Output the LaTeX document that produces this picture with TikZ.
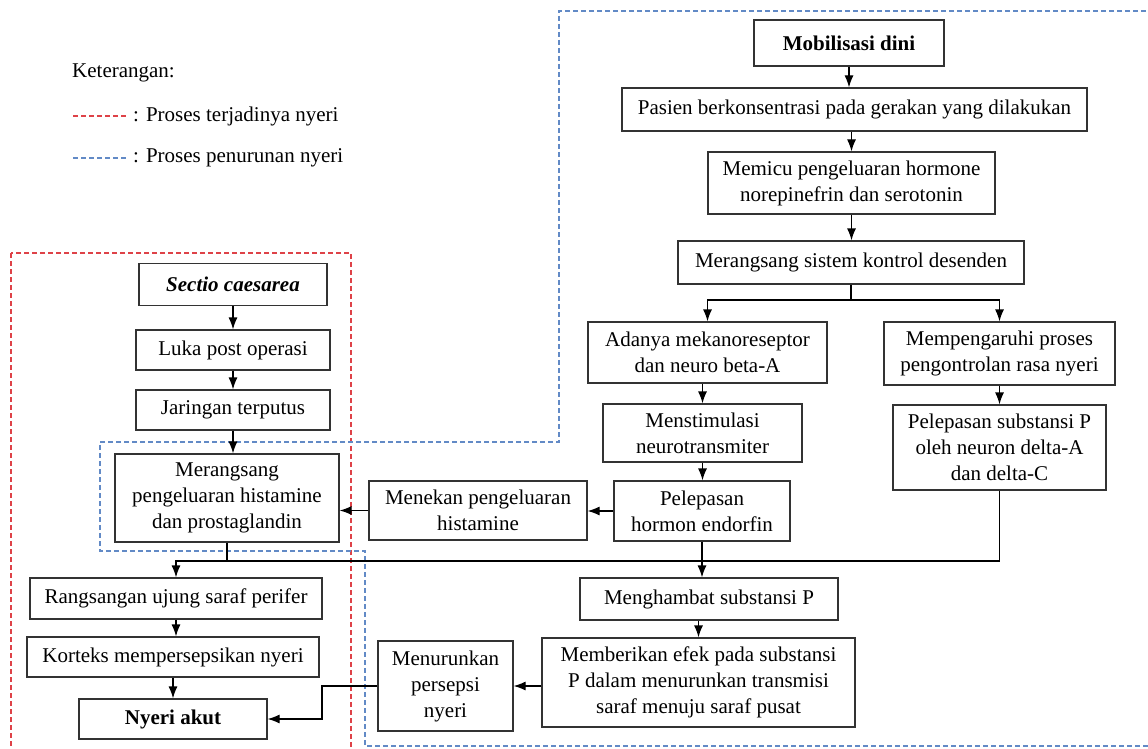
\documentclass[tikz,border=0pt]{standalone}
\usepackage{fontspec}
\setmainfont{Liberation Serif}
\usetikzlibrary{positioning,arrows.meta}
\definecolor{nyerimerah}{RGB}{222,66,72}
\definecolor{turunbiru}{RGB}{98,138,198}
\begin{document}
\begin{tikzpicture}[>={Latex[length=12pt,width=9pt]}, x=1pt, y=-1pt,
    box/.style={draw=black!80, line width=1.2pt, align=center, inner sep=2pt, font=\fontsize{21}{26}\selectfont},
    teks/.style={align=left, inner sep=0pt, font=\fontsize{21}{26}\selectfont},
    garis/.style={line width=1.2pt},
    merah/.style={draw=nyerimerah, line width=1.1pt, dash pattern=on 5pt off 3pt},
    biru/.style={draw=turunbiru, line width=1.1pt, dash pattern=on 5pt off 3pt}]
\useasboundingbox (0,0) rectangle (1148,749);

    % keterangan
    \node[teks, anchor=west] (ket) at (72,73) {Keterangan:};
    \node[teks, anchor=west] (legmerah) at (133,116) {: Proses terjadinya nyeri};
    \node[teks, anchor=west] (legbiru) at (133,158) {: Proses penurunan nyeri};
    \draw[merah] ([xshift=-60pt]legmerah.west) -- ([xshift=-6pt]legmerah.west);
    \draw[biru] ([xshift=-60pt]legbiru.west) -- ([xshift=-6pt]legbiru.west);

    % batas proses
    \draw[merah] (11,253) rectangle (351,770);
    \draw[biru] (1170,11) -- (559,11) -- (559,442) -- (100,442) -- (100,551) -- (365,551) -- (365,746) -- (1170,746);

    % proses terjadinya nyeri
    \node[box, minimum width=188pt, minimum height=42pt, font=\fontsize{21}{26}\selectfont\bfseries\itshape] (sectio) at (233,284.5) {Sectio caesarea};
    \node[box, minimum width=194pt, minimum height=40pt] (luka) at (233,350) {Luka post operasi};
    \node[box, minimum width=194pt, minimum height=40pt] (jaringan) at (233,410) {Jaringan terputus};
    \node[box, minimum width=224pt, minimum height=88pt] (histamin) at (227,498) {Merangsang\\pengeluaran histamine\\dan prostaglandin};
    \node[box, minimum width=292pt, minimum height=41pt] (perifer) at (176,598.5) {Rangsangan ujung saraf perifer};
    \node[box, minimum width=292pt, minimum height=40pt] (korteks) at (173,657) {Korteks mempersepsikan nyeri};
    \node[box, minimum width=188pt, minimum height=40pt, font=\fontsize{21}{26}\selectfont\bfseries] (akut) at (173,719) {Nyeri akut};

    % proses penurunan nyeri
    \node[box, minimum width=190pt, minimum height=46pt, font=\fontsize{21}{26}\selectfont\bfseries] (mobilisasi) at (849,43) {Mobilisasi dini};
    \node[box, minimum width=465pt, minimum height=43pt] (pasien) at (854.5,109.5) {Pasien berkonsentrasi pada gerakan yang dilakukan};
    \node[box, minimum width=287pt, minimum height=62pt] (memicu) at (851.5,183) {Memicu pengeluaran hormone\\norepinefrin dan serotonin};
    \node[box, minimum width=346pt, minimum height=43pt] (desenden) at (851,262.5) {Merangsang sistem kontrol desenden};
    \node[box, minimum width=239pt, minimum height=61pt] (mekano) at (707.5,352.5) {Adanya mekanoreseptor\\dan neuro beta-A};
    \node[box, minimum width=231pt, minimum height=63pt] (pengaruh) at (999.5,353.5) {Mempengaruhi proses\\pengontrolan rasa nyeri};
    \node[box, minimum width=199pt, minimum height=58pt] (stimulasi) at (702.5,433) {Menstimulasi\\neurotransmiter};
    \node[box, minimum width=213pt, minimum height=85pt] (subsP) at (999.5,447.5) {Pelepasan substansi P\\oleh neuron delta-A\\dan delta-C};
    \node[box, minimum width=176pt, minimum height=60pt] (endorfin) at (702,511) {Pelepasan\\hormon endorfin};
    \node[box, minimum width=218pt, minimum height=59pt] (menekan) at (478,510.5) {Menekan pengeluaran\\histamine};
    \node[box, minimum width=258pt, minimum height=42pt] (hambat) at (709,599) {Menghambat substansi P};
    \node[box, minimum width=313pt, minimum height=89pt] (efek) at (698.5,682.5) {Memberikan efek pada substansi\\P dalam menurunkan transmisi\\saraf menuju saraf pusat};
    \node[box, minimum width=135pt, minimum height=90pt] (persepsi) at (445.5,686) {Menurunkan\\persepsi\\nyeri};

    \coordinate (gabung) at (0,561);
    \coordinate (cabang) at (0,300);
    \coordinate (belok) at (322,0);

    % panah kiri
    \draw[garis,->] (sectio.south) -- (sectio.south |- luka.north);
    \draw[garis,->] (luka.south) -- (luka.south |- jaringan.north);
    \draw[garis,->] (jaringan.south) -- (jaringan.south |- histamin.north);
    \draw[garis] (histamin.south) -- (histamin.south |- gabung);
    \draw[garis,->] (perifer.south) -- (perifer.south |- korteks.north);
    \draw[garis,->] (korteks.south) -- (korteks.south |- akut.north);

    % panah kanan
    \draw[garis,->] (mobilisasi.south) -- (mobilisasi.south |- pasien.north);
    \draw[garis,->] (pasien.south -| memicu.north) -- (memicu.north);
    \draw[garis,->] (memicu.south) -- (memicu.south |- desenden.north);
    \draw[garis] (desenden.south) -- (desenden.south |- cabang);
    \draw[garis,->] (desenden.south |- cabang) -| (mekano.north);
    \draw[garis,->] (desenden.south |- cabang) -| (pengaruh.north);
    \draw[garis,->] (mekano.south -| stimulasi.north) -- (stimulasi.north);
    \draw[garis,->] (pengaruh.south) -- (pengaruh.south |- subsP.north);
    \draw[garis,->] (stimulasi.south) -- (stimulasi.south |- endorfin.north);
    \draw[garis,->] (endorfin.west) -- (menekan.east |- endorfin.west);
    \draw[garis,->] (menekan.west) -- (histamin.east |- menekan.west);
    \draw[garis,->] (subsP.south) |- (perifer.north |- gabung) -- (perifer.north);
    \draw[garis,->] (endorfin.south) -- (endorfin.south |- hambat.north);
    \draw[garis,->] (efek.north |- hambat.south) -- (efek.north);
    \draw[garis,->] (efek.west |- persepsi.east) -- (persepsi.east);
    \draw[garis,->] (persepsi.west) -- (belok |- persepsi.west) |- (akut.east);

\end{tikzpicture}
\end{document}
